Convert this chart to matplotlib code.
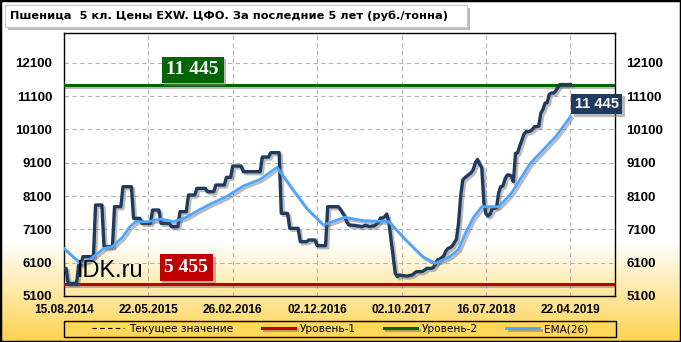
import matplotlib
matplotlib.use("Agg")
import matplotlib.pyplot as plt
import matplotlib.patheffects as pe
import numpy as np
from matplotlib.patches import Rectangle

############################
# Data
############################

title = "Пшеница  5 кл. Цены EXW. ЦФО. За последние 5 лет (руб./тонна)"

# weekly price, rub/t (index = data point number)
price = [
    5930, 5930, 5480, 5480, 5480, 5480, 5480, 6030, 6030, 6280,
    6280, 6280, 6280, 6280, 6280, 7830, 7830, 7830, 7830, 6580,
    6580, 6580, 6580, 6580, 7780, 7780, 7780, 7780, 8380, 8380,
    8380, 8380, 8380, 7430, 7430, 7430, 7430, 7280, 7280, 7280,
    7280, 7280, 7680, 7680, 7680, 7680, 7280, 7280, 7280, 7280,
    7280, 7180, 7180, 7180, 7180, 7630, 7630, 7630, 7630, 8130,
    8130, 8130, 8130, 8330, 8330, 8330, 8330, 8330, 8230, 8230,
    8230, 8230, 8430, 8430, 8430, 8430, 8430, 8660, 8660, 8660,
    9000, 9000, 9000, 9000, 9000, 8830, 8830, 8830, 8830, 8830,
    8830, 8830, 8830, 8830, 9270, 9270, 9270, 9270, 9400, 9400,
    9400, 9400, 9400, 7580, 7580, 7580, 7580, 7130, 7130, 7130,
    7130, 7130, 6730, 6730, 6730, 6730, 6780, 6780, 6780, 6780,
    6610, 6610, 6610, 6610, 6610, 7780, 7780, 7780, 7780, 7780,
    7780, 7700, 7600, 7500, 7330, 7230, 7230, 7220, 7220, 7200,
    7200, 7180, 7200, 7220, 7200, 7180, 7200, 7200, 7250, 7300,
    7440, 7440, 7480, 7560, 7300, 6800, 6300, 5790, 5680, 5730,
    5720, 5710, 5700, 5700, 5720, 5730, 5780, 5830, 5830, 5830,
    5840, 5880, 5930, 5930, 5930, 5950, 6050, 6180, 6200, 6250,
    6300, 6450, 6530, 6550, 6600, 6700, 6800, 7280, 8100, 8580,
    8650, 8700, 8750, 8800, 8900, 9100, 9200, 9050, 8950, 7900,
    7560, 7500, 7560, 7730, 7730, 7750, 8200, 8380, 8400, 8600,
    8730, 8730, 8700, 8530, 9380, 9400, 9600, 9780, 9950, 10030,
    10030, 10050, 10100, 10180, 10180, 10200, 10590, 10700, 10890, 10900,
    11150, 11190, 11190, 11250, 11350, 11440, 11445, 11445, 11440, 11445,
    11445,
]

# EMA(26)
ema_idx = [0, 4, 8, 11, 15, 19, 23, 28, 31, 34, 40, 46, 52, 58, 64, 70, 77,
           85, 93, 101, 108, 115, 123, 126, 133, 142, 154, 162, 170, 176,
           183, 187, 190, 194, 198, 206, 212, 221, 233, 240]
ema_val = [6530, 6300, 6080, 6130, 6330, 6530, 6580, 6880, 7160, 7330, 7330,
           7410, 7330, 7460, 7680, 7880, 8080, 8400, 8600, 8960, 8330, 7730,
           7230, 7300, 7460, 7360, 7330, 6780, 6280, 6080, 6280, 6500, 6950,
           7450, 7780, 7780, 8180, 9080, 9880, 10480]

level_1 = 5455
level_2 = 11445
current = 11445

tick_idx = [0, 40, 80, 120, 160, 200, 240]
tick_dates = ["15.08.2014", "22.05.2015", "26.02.2016", "02.12.2016",
              "02.10.2017", "16.07.2018", "22.04.2019"]
y_ticks = [5100, 6100, 7100, 8100, 9100, 10100, 11100, 12100]

############################
# Figure
############################

W, H = 681, 342
fig = plt.figure(figsize=(W / 100, H / 100), dpi=100)
fig.patch.set_facecolor("white")

# background gradient white -> gold
bg = fig.add_axes([0, 0, 1, 1], zorder=-10)
bg.axis("off")
rows = np.arange(H)
t = np.clip((rows - 240) / (H - 240), 0, 1)[:, None]
gold = np.array([255, 210, 77]) / 255
white = np.array([1.0, 1.0, 1.0])
grad = (white * (1 - t) + gold * t)[:, None, :]
bg.imshow(grad, aspect="auto", extent=[0, 1, 0, 1])
bg.set_xlim(0, 1)
bg.set_ylim(0, 1)

ax = fig.add_axes([63.9 / W, (H - 296) / H, (614.7 - 63.9) / W, (296 - 32.7) / H])
ax.set_facecolor("none")

shadow = [pe.SimpleLineShadow(offset=(1.5, -1.5), shadow_color="#555555", alpha=0.4), pe.Normal()]

x = np.arange(len(price))
l_cur = ax.axhline(current, color="black", ls=(0, (4, 3)), lw=0.8, zorder=2, label="Текущее значение")
l_1 = ax.axhline(level_1, color="#C00000", lw=2.2, zorder=3, label="Уровень-1", path_effects=shadow)
l_2 = ax.axhline(level_2, color="#006400", lw=2.2, zorder=3, label="Уровень-2", path_effects=shadow)
ax.plot(x, price, color="#1F3A5F", lw=2.4, zorder=4, path_effects=shadow)
l_ema, = ax.plot(ema_idx, ema_val, color="#4DA6FF", lw=2.0, zorder=5, label="EMA(26)", path_effects=shadow)

ax.set_xlim(0, 261)
ax.set_ylim(5100, 13000)
ax.set_xticks(tick_idx, tick_dates)
ax.set_yticks(y_ticks)
ax.tick_params(axis="both", length=0)
ax.tick_params(axis="y", labelleft=True, labelright=True, pad=8.5)
ax.tick_params(axis="x", pad=5.5)
for tk in ax.yaxis.get_major_ticks():
    for lab in (tk.label1, tk.label2):
        lab.set_fontfamily("Liberation Sans")
        lab.set_fontweight("bold")
        lab.set_fontsize(9.5)
for lab in ax.get_xticklabels():
    lab.set_fontfamily("Liberation Sans")
    lab.set_fontweight("bold")
    lab.set_fontsize(8.6)

ax.grid(True, color="#B4B4B4", ls=(0, (4, 3)), lw=0.8)
ax.set_axisbelow(True)
for s in ax.spines.values():
    s.set_color("black")
    s.set_linewidth(1)

box_shadow = [pe.SimplePatchShadow(offset=(2, -2), shadow_rgbFace="#777777", alpha=0.5), pe.Normal()]

t1 = ax.text(61, 11887, "11 445", ha="center", va="center", color="white", fontsize=14,
             fontweight="bold", family="Liberation Serif", zorder=6,
             bbox=dict(boxstyle="square,pad=0.24", fc="#006400", ec="none"))
t2 = ax.text(58, 5956, "5 455", ha="center", va="center", color="white", fontsize=14,
             fontweight="bold", family="Liberation Serif", zorder=6,
             bbox=dict(boxstyle="square,pad=0.24", fc="#C00000", ec="none"))
t3 = ax.text(242, 10866, "11 445", ha="left", va="center", color="white", fontsize=10.5,
             fontweight="bold", family="Liberation Sans", zorder=6,
             bbox=dict(boxstyle="square,pad=0.22", fc="#1F3A5F", ec="none"))
for tt in (t1, t2, t3):
    tt.get_bbox_patch().set_path_effects(box_shadow)

fig.text(77 / W, 1 - 271 / H, "IDK.ru", fontsize=17, family="Liberation Sans",
         ha="left", va="center", color="black", zorder=7)

# title box
fig.patches.append(Rectangle((5 / W, 1 - 27 / H), 462 / W, 22 / H, transform=fig.transFigure,
                             fc="white", ec="#C8C8C8", lw=0.8, path_effects=box_shadow))
fig.text(10 / W, 1 - 16 / H, title, fontsize=8.2, fontweight="bold", ha="left", va="center")

# legend box
fig.patches.append(Rectangle((64 / W, 1 - 337 / H), (616 - 64) / W, 16 / H, transform=fig.transFigure,
                             fc="#FFD75A", ec="black", lw=1))
fig.legend([l_cur, l_1, l_2, l_ema], [h.get_label() for h in (l_cur, l_1, l_2, l_ema)],
           loc="center", bbox_to_anchor=(340 / W, 1 - 329 / H), ncol=4, frameon=False,
           prop=dict(family="DejaVu Sans", size=7.6), handlelength=3.1, handletextpad=0.47,
           columnspacing=2.7, borderpad=0, borderaxespad=0)

# outer frame
fig.patches.append(Rectangle((0, 0), 1, 1, transform=fig.transFigure, fill=False, ec="black", lw=2.5))

fig.savefig("out.png", dpi=100)
